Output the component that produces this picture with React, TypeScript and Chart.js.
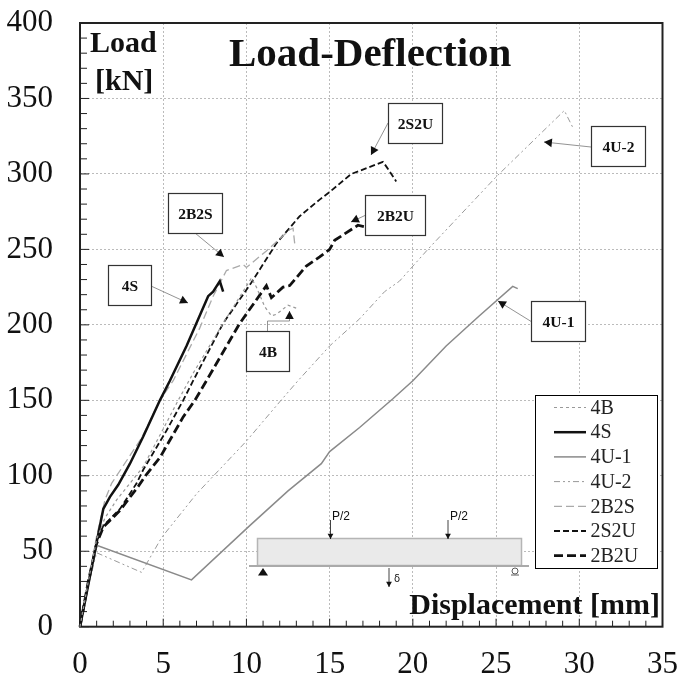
import React, { useEffect, useRef } from "react";
import { Chart, registerables } from "chart.js";

Chart.register(...registerables);

const xTicks = [0, 5, 10, 15, 20, 25, 30, 35];
const yTicks = [0, 50, 100, 150, 200, 250, 300, 350, 400];

const s4Bx = [0, 0.5, 1, 1.5, 2.2, 3, 3.8, 5, 5.9, 6.8, 8.6, 10.3, 10.6, 11.1, 11.5, 11.8, 12.5, 13];
const s4By = [0, 30, 58, 72, 84, 95, 106, 131, 150, 168, 201, 231, 225, 212, 206, 207, 213, 211];
const s4Sx = [0, 0.5, 1, 1.4, 1.8, 2.3, 3, 3.8, 4.8, 5.4, 6.4, 7.7, 8, 8.4, 8.6];
const s4Sy = [0, 28, 56, 78, 86, 94, 108, 126, 150, 163, 186, 219, 222, 229, 222];
const s4U1x = [0, 0.5, 1, 6.7, 10.2, 12.5, 14.5, 15, 16.8, 18.8, 20, 22, 24, 26, 26.3];
const s4U1y = [0, 28, 54, 31, 67, 90, 108, 116, 132, 151, 163, 186, 206, 225.5, 224];
const s4U2x = [0, 0.5, 1, 3.7, 4.9, 7, 10, 12, 13.1, 15, 16.8, 18.3, 19.2, 20.9, 25, 29.1, 29.6];
const s4U2y = [0, 27, 49, 36, 59, 88, 123, 149, 163, 186, 204, 222, 229, 250, 298, 342, 331];
const s2B2Sx = [0, 0.5, 1, 1.5, 1.9, 3.7, 4.8, 5.6, 7.2, 8, 8.8, 9.8, 10, 11.2, 12.6, 12.8, 12.9];
const s2B2Sy = [0, 30, 60, 84, 95, 125, 150, 163, 198, 219, 236, 240, 238, 249, 263, 264, 254];
const s2S2Ux = [0, 0.5, 1, 1.4, 2.4, 3.4, 3.8, 5.2, 6.2, 6.8, 8.6, 10.3, 11.8, 13.2, 14.4, 15, 16.3, 16.8, 18.2, 18.4, 19];
const s2S2Uy = [0, 30, 56, 67, 78, 95, 104, 130, 150, 163, 201, 228, 254, 272, 283, 288, 300, 302, 308, 305, 295];
const s2B2Ux = [0, 0.5, 1, 1.4, 2.4, 3.5, 4, 4.8, 6.2, 6.9, 7.6, 9.6, 11.2, 11.5, 12.2, 12.6, 13.6, 14.4, 15, 15.3, 16.7, 17.1];
const s2B2Uy = [0, 30, 55, 66, 77, 93, 101, 112, 139, 150, 163, 201, 226, 218, 225, 226, 239, 245, 250, 256, 266, 265];

const zip = (xs: number[], ys: number[]) => xs.map((x, i) => ({ x, y: ys[i] }));
const SERIF = "'Liberation Serif', serif";

function box(ctx: CanvasRenderingContext2D, x1: number, y1: number, x2: number, y2: number, label: string) {
  ctx.fillStyle = "#fff";
  ctx.fillRect(x1, y1, x2 - x1, y2 - y1);
  ctx.strokeStyle = "#333";
  ctx.lineWidth = 1.2;
  ctx.setLineDash([]);
  ctx.strokeRect(x1, y1, x2 - x1, y2 - y1);
  ctx.fillStyle = "#111";
  ctx.font = `bold 15.5px ${SERIF}`;
  ctx.textAlign = "center";
  ctx.textBaseline = "middle";
  ctx.fillText(label, (x1 + x2) / 2, (y1 + y2) / 2 + 1);
}

function arrow(ctx: CanvasRenderingContext2D, pts: number[][], size = 9, color = "#111", line = "#777") {
  ctx.setLineDash([]);
  ctx.strokeStyle = line;
  ctx.lineWidth = 0.8;
  ctx.beginPath();
  pts.forEach((p, i) => (i ? ctx.lineTo(p[0], p[1]) : ctx.moveTo(p[0], p[1])));
  ctx.stroke();
  const [a, b] = [pts[pts.length - 2], pts[pts.length - 1]];
  const t = Math.atan2(b[1] - a[1], b[0] - a[0]);
  ctx.fillStyle = color;
  ctx.beginPath();
  ctx.moveTo(b[0], b[1]);
  ctx.lineTo(b[0] - size * Math.cos(t - 0.5), b[1] - size * Math.sin(t - 0.5));
  ctx.lineTo(b[0] - size * Math.cos(t + 0.5), b[1] - size * Math.sin(t + 0.5));
  ctx.closePath();
  ctx.fill();
}

const frame = {
  id: "frame",
  beforeDatasetsDraw(chart: any) {
    const { ctx, chartArea: a, scales } = chart;
    ctx.save();
    ctx.setLineDash([]);
    ctx.strokeStyle = "#222";
    ctx.lineWidth = 1;
    for (let v = 0; v <= 35; v++) {
      const x = scales.x.getPixelForValue(v);
      ctx.beginPath();
      ctx.moveTo(x, a.bottom);
      ctx.lineTo(x, a.bottom - (v % 5 === 0 ? 8 : 6));
      ctx.stroke();
    }
    for (let v = 0; v <= 400; v += 10) {
      const y = scales.y.getPixelForValue(v);
      ctx.beginPath();
      ctx.moveTo(a.left, y);
      ctx.lineTo(a.left + (v % 50 === 0 ? 9 : 7), y);
      ctx.stroke();
    }
    ctx.strokeStyle = "#222";
    ctx.lineWidth = 2;
    ctx.strokeRect(a.left, a.top, a.right - a.left, a.bottom - a.top);
    ctx.restore();
  },
};

const annotations = {
  id: "annotations",
  afterDatasetsDraw(chart: any) {
    const { ctx } = chart;
    ctx.save();

    // title and axis captions
    ctx.fillStyle = "#111";
    ctx.textBaseline = "alphabetic";
    ctx.textAlign = "left";
    ctx.font = `bold 41px ${SERIF}`;
    ctx.fillText("Load-Deflection", 229, 66);
    ctx.font = `bold 30px ${SERIF}`;
    ctx.fillText("Load", 90, 52);
    ctx.fillText("[kN]", 95, 90);
    ctx.textAlign = "right";
    ctx.fillText("Displacement [mm]", 660, 614);

    // beam sketch
    ctx.fillStyle = "#eaeaea";
    ctx.fillRect(257.5, 538.5, 264, 27);
    ctx.strokeStyle = "#b5b5b5";
    ctx.lineWidth = 1.5;
    ctx.strokeRect(257.5, 538.5, 264, 27);
    ctx.strokeStyle = "#aaa";
    ctx.lineWidth = 2;
    ctx.beginPath();
    ctx.moveTo(249, 566);
    ctx.lineTo(529, 566);
    ctx.stroke();
    arrow(ctx, [[330.5, 520], [330.5, 539]], 6, "#111", "#111");
    arrow(ctx, [[448, 520], [448, 539]], 6, "#111", "#111");
    arrow(ctx, [[389, 568], [389, 587]], 6, "#111", "#111");
    ctx.fillStyle = "#111";
    ctx.font = "12px 'Liberation Sans', sans-serif";
    ctx.textAlign = "left";
    ctx.fillText("P/2", 332, 520);
    ctx.fillText("P/2", 450, 520);
    ctx.font = "10px 'DejaVu Sans', sans-serif";
    ctx.fillText("δ", 394, 582);
    ctx.beginPath();
    ctx.moveTo(263, 568);
    ctx.lineTo(268, 575.5);
    ctx.lineTo(258, 575.5);
    ctx.closePath();
    ctx.fill();
    ctx.strokeStyle = "#333";
    ctx.lineWidth = 0.8;
    ctx.beginPath();
    ctx.arc(515, 571, 3, 0, Math.PI * 2);
    ctx.moveTo(511, 575);
    ctx.lineTo(519, 575);
    ctx.stroke();

    // callouts
    arrow(ctx, [[195, 233], [224, 257]]);
    arrow(ctx, [[151, 286], [188, 303]]);
    arrow(ctx, [[267.5, 332], [267.5, 321], [289.5, 321], [289.5, 311]]);
    arrow(ctx, [[388, 123], [371, 155]]);
    arrow(ctx, [[366, 215], [351, 222]]);
    arrow(ctx, [[591, 147], [544, 142]]);
    arrow(ctx, [[532, 322], [498, 301]]);
    box(ctx, 168.5, 193.5, 222.5, 233.5, "2B2S");
    box(ctx, 108.5, 265.5, 151.5, 305.5, "4S");
    box(ctx, 246.5, 331.5, 289.5, 371.5, "4B");
    box(ctx, 388.5, 103.5, 442.5, 143.5, "2S2U");
    box(ctx, 591.5, 126.5, 645.5, 166.5, "4U-2");
    box(ctx, 365.5, 195.5, 425.5, 235.5, "2B2U");
    box(ctx, 531.5, 301.5, 585.5, 341.5, "4U-1");

    // legend
    ctx.fillStyle = "#fff";
    ctx.fillRect(536, 396, 121, 172);
    ctx.strokeStyle = "#000";
    ctx.lineWidth = 1;
    ctx.setLineDash([]);
    ctx.strokeRect(535.5, 395.5, 122, 173);
    chart.data.datasets.forEach((d: any, i: number) => {
      const y = 407.5 + i * 24.7;
      ctx.strokeStyle = d.borderColor;
      ctx.lineWidth = d.borderWidth;
      ctx.setLineDash(d.borderDash || []);
      ctx.beginPath();
      ctx.moveTo(554, y);
      ctx.lineTo(586, y);
      ctx.stroke();
      ctx.setLineDash([]);
      ctx.fillStyle = "#222";
      ctx.font = `20px ${SERIF}`;
      ctx.textAlign = "left";
      ctx.textBaseline = "middle";
      ctx.fillText(d.label, 590.5, y + 1);
    });
    ctx.restore();
  },
};

const noPad = (s: any) => {
  s.paddingTop = 0;
  s.paddingBottom = 0;
  s.paddingLeft = 0;
  s.paddingRight = 0;
};

export default function App() {
  const ref = useRef<HTMLCanvasElement>(null);
  useEffect(() => {
    const chart = new Chart(ref.current as HTMLCanvasElement, {
      type: "scatter",
      data: {
        datasets: [
          { label: "4B", data: zip(s4Bx, s4By), borderColor: "#999", borderWidth: 1.2, borderDash: [3, 3] },
          { label: "4S", data: zip(s4Sx, s4Sy), borderColor: "#111", borderWidth: 2.5 },
          { label: "4U-1", data: zip(s4U1x, s4U1y), borderColor: "#8a8a8a", borderWidth: 1.5 },
          { label: "4U-2", data: zip(s4U2x, s4U2y), borderColor: "#999", borderWidth: 1, borderDash: [6, 3, 2, 3, 2, 3] },
          { label: "2B2S", data: zip(s2B2Sx, s2B2Sy), borderColor: "#aaa", borderWidth: 1.3, borderDash: [8, 4] },
          { label: "2S2U", data: zip(s2S2Ux, s2S2Uy), borderColor: "#111", borderWidth: 1.8, borderDash: [6, 3] },
          { label: "2B2U", data: zip(s2B2Ux, s2B2Uy), borderColor: "#111", borderWidth: 2.8, borderDash: [9, 4] },
        ].map((d) => ({ ...d, showLine: true, pointRadius: 0, fill: false, tension: 0, clip: false })),
      },
      options: {
        animation: false,
        responsive: false,
        layout: { autoPadding: false, padding: { top: 23, right: 16.5, left: 0, bottom: 0 } },
        plugins: { legend: { display: false }, tooltip: { enabled: false } },
        scales: {
          x: {
            type: "linear",
            min: 0,
            max: 35,
            afterBuildTicks: (s: any) => { s.ticks = xTicks.map((value) => ({ value })); },
            afterFit: (s: any) => { s.height = 49.3; noPad(s); },
            grid: { color: "#bbb", lineWidth: 1, drawTicks: false },
            border: { display: false, dash: [2, 2] },
            ticks: { font: { family: "Liberation Serif", size: 31 }, color: "#111", padding: 20, maxRotation: 0, autoSkip: false },
          },
          y: {
            type: "linear",
            min: 0,
            max: 400,
            afterBuildTicks: (s: any) => { s.ticks = yTicks.map((value) => ({ value })); },
            afterFit: (s: any) => { s.width = 80; noPad(s); },
            grid: { color: "#bbb", lineWidth: 1, drawTicks: false },
            border: { display: false, dash: [2, 2] },
            ticks: { font: { family: "Liberation Serif", size: 31 }, color: "#111", padding: 27, autoSkip: false },
          },
        },
      },
      plugins: [frame, annotations],
    } as any);
    return () => chart.destroy();
  }, []);
  return (
    <div style={{ position: "absolute", left: 0, top: 0, background: "#fff" }}>
      <canvas ref={ref} width={679} height={676} style={{ display: "block" }} />
    </div>
  );
}
